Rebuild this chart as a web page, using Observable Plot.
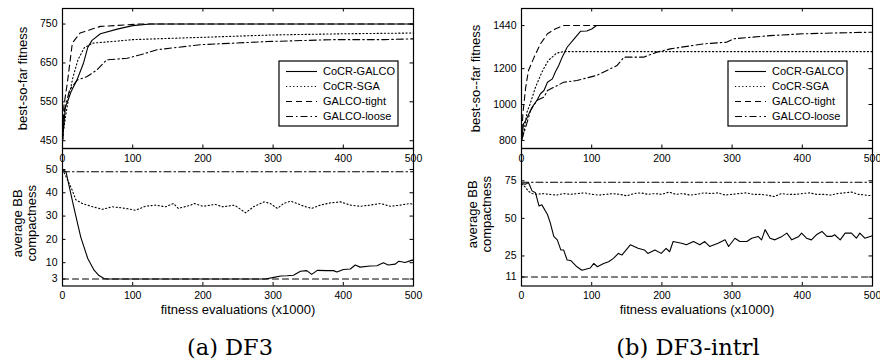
<!DOCTYPE html>
<html><head><meta charset="utf-8">
<script src="https://cdn.jsdelivr.net/npm/d3@7"></script>
<script src="https://cdn.jsdelivr.net/npm/@observablehq/plot@0.6"></script>
<style>
html,body{margin:0;padding:0;background:#fff;}
#fig{position:relative;width:880px;height:360px;overflow:hidden;background:#fff;font-family:"Liberation Sans",Arial,sans-serif;}
</style></head><body><div id="fig"></div>
<script>
// ---------- data ----------
const seriesNames = ["CoCR-GALCO", "CoCR-SGA", "GALCO-tight", "GALCO-loose"];
const xTicks = [0, 100, 200, 300, 400, 500];

// (a) DF3 – best-so-far fitness
const fitA_galco = [[0,450],[4,535],[12,575],[21,608],[30,650],[36,690],[42,708],[54,725],[78,737],[100,746],[125,750],[500,750]];
const fitA_sga   = [[0,445],[1,470],[5,520],[10,572],[15,614],[22,658],[31,689],[43,701],[70,705],[100,710],[200,716],[300,722],[400,725],[500,727]];
const fitA_tight = [[0,450],[2,540],[7,600],[14,701],[25,727],[54,744],[92,748],[110,750],[500,750]];
const fitA_loose = [[0,450],[3,530],[10,580],[21,606],[35,615],[49,632],[63,658],[92,662],[111,671],[135,684],[197,697],[292,705],[387,710],[458,710],[500,712]];
const fitA_ticks = [450, 550, 650, 750];

// (a) DF3 – average BB compactness
const cmpA_galco = [[0,50],[5,49],[16,34],[26,21],[36,11.8],[45,6.8],[52,4.5],[59,3.2],[63,3],[289,3],[301,3.7],[311,4.3],[320,4.4],[329,4.6],[339,6.3],[348,6.6],[355,5],[363,6.7],[377,6.6],[386,6.6],[391,6],[400,7.1],[410,7.3],[417,9],[424,8.1],[438,8.6],[448,8.7],[457,10],[464,9],[474,9.4],[479,10.6],[488,10.1],[498,11.1],[500,11]];
const cmpA_sga   = [[0,50],[5,47],[14,41],[19,37],[28,35.4],[43,34],[57,32.9],[71,34],[90,33.3],[104,32.5],[118,34.2],[132,34.7],[147,34],[158,35.4],[165,33.3],[183,34.7],[188,35.4],[200,34.2],[218,35],[228,34],[245,34.7],[261,31.4],[272,34],[287,36.1],[296,35.4],[306,33.3],[315,35.4],[325,36.4],[334,35.4],[344,34.2],[355,33.3],[367,34.7],[382,35.7],[396,36.1],[410,34.7],[424,34.2],[438,34.7],[453,35.4],[467,34.2],[481,34.7],[495,35.4],[500,35]];
const cmpA_tight = [[0,3],[500,3]];
const cmpA_loose = [[0,49],[500,49]];
const cmpA_ticks = [3, 10, 20, 30, 40, 50];

// (b) DF3-intrl – best-so-far fitness
const fitB_galco = [[0,800],[3,893],[6,911],[15,985],[22,1023],[27,1060],[32,1078],[37,1124],[44,1143],[48,1180],[53,1217],[58,1264],[65,1319],[75,1366],[84,1408],[93,1410],[100,1421],[107,1440],[500,1440]];
const fitB_sga   = [[0,800],[3,840],[8,960],[12,1000],[20,1097],[29,1180],[38,1245],[50,1286],[60,1295],[500,1295]];
const fitB_tight = [[0,800],[2,950],[6,1097],[10,1190],[18,1264],[27,1338],[37,1394],[48,1421],[60,1440],[500,1440]];
const fitB_loose = [[0,800],[6,874],[13,967],[22,1023],[32,1041],[37,1078],[60,1124],[79,1134],[107,1162],[136,1217],[146,1264],[174,1264],[193,1292],[212,1310],[259,1338],[292,1347],[302,1366],[354,1384],[401,1394],[449,1399],[500,1403]];
const fitB_ticks = [800, 1000, 1200, 1440];

// (b) DF3-intrl – average BB compactness
const cmpB_galco = [[0,73],[6,72.8],[10,73.9],[15,68.3],[20,67],[25,58.2],[29,59],[37,52.6],[41,47],[46,38],[51,35.7],[56,29],[60,29],[65,22.3],[70,22],[79,17.8],[86,15.5],[98,17],[103,20],[108,17.8],[117,20],[124,21.1],[131,23.4],[138,26.7],[143,25.6],[155,32.4],[166,30.1],[175,29],[180,26.7],[190,29],[199,26.7],[206,30],[211,27.8],[216,34.6],[228,33.5],[235,32.4],[245,34.6],[254,32.4],[261,34.6],[268,31.3],[280,33.5],[290,35.7],[295,31.3],[304,36.8],[311,34.6],[321,34.6],[328,36.8],[337,38],[342,35.7],[347,42.5],[354,36.8],[361,35.7],[371,38],[378,40.2],[385,35.7],[395,38],[399,40.2],[406,36.8],[413,35.7],[420,39.1],[428,41.3],[435,38],[442,38],[446,39.1],[454,35.7],[461,40.2],[470,40.2],[477,36.8],[482,40.2],[489,36.8],[500,38.5]];
const cmpB_sga   = [[0,73],[5,71],[10,68],[15,66.5],[20,66],[30,66.5],[40,66],[50,65.5],[60,66.5],[70,66],[80,66.5],[90,67],[100,66],[110,65.5],[120,66],[130,66.5],[140,66],[150,65],[160,66.5],[170,67],[180,66],[190,66.5],[200,66],[210,67.5],[220,66],[230,66.5],[240,65.5],[250,66],[260,67],[270,66.5],[280,67],[290,65.5],[300,66],[310,66.5],[320,67],[330,66],[340,66],[350,65.5],[360,64.5],[370,66.5],[380,66],[390,66],[400,66.5],[410,67],[420,66],[430,66],[440,65.5],[450,66.5],[460,67],[470,67.5],[480,66],[490,65.5],[500,65]];
const cmpB_tight = [[0,11],[500,11]];
const cmpB_loose = [[0,74],[500,74]];
const cmpB_ticks = [11, 25, 50, 75];

// ---------- drawing ----------
const dashes = [null, "1.2,2.4", "6,4", "7,3,1.5,3"];
const FONT = "Liberation Sans, Arial, Helvetica, sans-serif";
const fig = document.getElementById("fig");

function makePlot(o) {
  const W = 440, fh = o.height - o.mt - o.mb, fw = W - o.ml - o.mr;
  const inner = xTicks.slice(1, -1);
  const marks = [];
  o.series.forEach((s, i) => marks.push(Plot.line(s, {stroke: "#000", strokeWidth: 1.1, strokeDasharray: dashes[i]})));
  marks.push(Plot.frame({stroke: "#000", strokeWidth: 1.2}));
  marks.push(Plot.tickX(inner, {x: d => d, insetTop: fh - 3.5, stroke: "#000"}));
  if (o.topTicks) marks.push(Plot.tickX(inner, {x: d => d, insetBottom: fh - 3.5, stroke: "#000"}));
  marks.push(Plot.tickY(o.yTicks, {y: d => d, insetRight: fw - 3.5, stroke: "#000"}));
  marks.push(Plot.tickY(o.yTicks, {y: d => d, insetLeft: fw - 3.5, stroke: "#000"}));
  marks.push(Plot.text([o.ylabel], {text: d => d, frameAnchor: "left", textAnchor: "middle", lineAnchor: "middle",
    rotate: -90, dx: o.ylDx, dy: o.ylDy || 0, fontSize: 13, lineHeight: 1.08, fill: "#000"}));
  if (o.xlabel) marks.push(Plot.text([o.xlabel], {text: d => d, frameAnchor: "bottom", textAnchor: "middle", lineAnchor: "middle",
    dy: 23.5, fontSize: 13, fill: "#000"}));
  const svg = Plot.plot({
    width: W, height: o.height,
    marginTop: o.mt, marginBottom: o.mb, marginLeft: o.ml, marginRight: o.mr,
    style: {background: "transparent", overflow: "visible", fontFamily: FONT, fontSize: "10.5px", color: "#000"},
    x: {domain: [0, 500], ticks: xTicks, tickSize: 0, tickPadding: o.xPad, label: null, tickFormat: d => String(d)},
    y: {domain: o.yDomain, ticks: o.yTicks, tickSize: 0, tickPadding: 5, label: null, tickFormat: d => String(d)},
    marks
  });
  svg.style.position = "absolute";
  svg.style.left = o.left + "px";
  svg.style.top = o.top + "px";
  return svg;
}

function addLegend(svg, L, T) {
  const g = d3.select(svg).append("g");
  g.append("rect").attr("x", L).attr("y", T).attr("width", 119).attr("height", 65)
    .attr("fill", "#fff").attr("stroke", "#000").attr("stroke-width", 1.2);
  seriesNames.forEach((name, i) => {
    const y = T + 10.5 + i * 15;
    g.append("line").attr("x1", L + 7).attr("x2", L + 38).attr("y1", y).attr("y2", y)
      .attr("stroke", "#000").attr("stroke-width", 1.1).attr("stroke-dasharray", dashes[i]);
    g.append("text").attr("x", L + 44).attr("y", y).attr("dy", "0.35em").attr("text-anchor", "start")
      .attr("font-size", 11).attr("font-family", FONT).attr("fill", "#000").text(name);
  });
}

const panels = [
  {left: 0, ml: 62, mr: 27, fit: [fitA_galco, fitA_sga, fitA_tight, fitA_loose], fitDom: [430, 790], fitTicks: fitA_ticks,
   cmp: [cmpA_galco, cmpA_sga, cmpA_tight, cmpA_loose], cmpDom: [0, 59], cmpTicks: cmpA_ticks,
   fitLabel: "best-so-far fitness", fitDx: -40, cmpDx: -38, cmpDy: 6, legendL: 279, caption: "(a) DF3", capX: 230},
  {left: 440, ml: 81, mr: 8, fit: [fitB_galco, fitB_sga, fitB_tight, fitB_loose], fitDom: [755, 1535], fitTicks: fitB_ticks,
   cmp: [cmpB_galco, cmpB_sga, cmpB_tight, cmpB_loose], cmpDom: [5, 96.5], cmpTicks: cmpB_ticks,
   fitLabel: "best-so--far fitness", fitDx: -46, cmpDx: -42, cmpDy: -3, legendL: 288, caption: "(b) DF3-intrl", capX: 688}
];

const bottoms = [], tops = [];
panels.forEach(p => {
  bottoms.push(makePlot({left: p.left, top: 140, height: 180, mt: 8, mb: 34.5, ml: p.ml, mr: p.mr,
    yDomain: p.cmpDom, yTicks: p.cmpTicks, series: p.cmp, topTicks: false, xPad: 5.5,
    ylabel: "average BB\ncompactness", ylDx: p.cmpDx, ylDy: p.cmpDy, xlabel: "fitness evaluations (x1000)"}));
  const t = makePlot({left: p.left, top: 0, height: 175, mt: 8, mb: 27, ml: p.ml, mr: p.mr,
    yDomain: p.fitDom, yTicks: p.fitTicks, series: p.fit, topTicks: true, xPad: 6,
    ylabel: p.fitLabel, ylDx: p.fitDx});
  addLegend(t, p.legendL, 61);
  tops.push(t);
});
bottoms.forEach(s => fig.appendChild(s));
tops.forEach(s => fig.appendChild(s));

// captions
const cap = d3.select(fig).append("svg").attr("width", 880).attr("height", 360)
  .style("position", "absolute").style("left", "0px").style("top", "0px").style("pointer-events", "none");
panels.forEach(p => {
  cap.append("text").attr("x", p.capX).attr("y", 354.5).attr("text-anchor", "middle")
    .attr("font-family", "DejaVu Serif, serif").attr("font-size", 22.5).attr("fill", "#000").text(p.caption);
});
</script>
</body></html>
